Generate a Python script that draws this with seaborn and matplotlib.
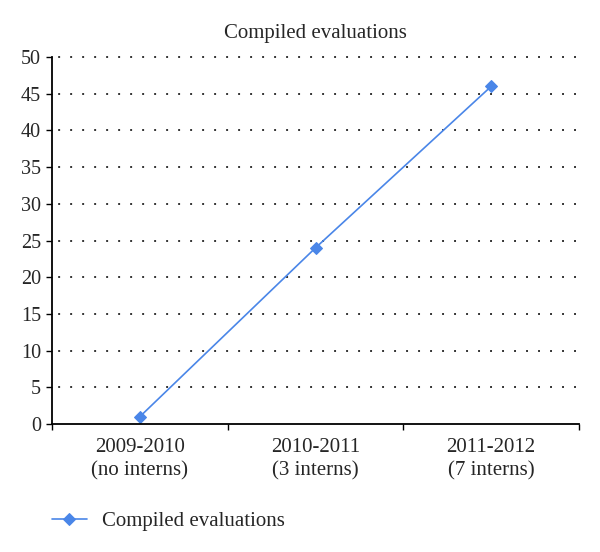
import matplotlib
matplotlib.use("Agg")
import matplotlib.pyplot as plt
import seaborn as sns
import pandas as pd
from matplotlib.ticker import FixedLocator

categories = ["2009-2010\n(no interns)", "2010-2011\n(3 interns)", "2011-2012\n(7 interns)"]
values = [1, 24, 46]
series_name = "Compiled evaluations"
y_ticks = [0, 5, 10, 15, 20, 25, 30, 35, 40, 45, 50]

sns.set_style("white")
plt.rcParams['font.family'] = ['Liberation Serif', 'DejaVu Serif']

df = pd.DataFrame({"period": categories, "value": values})

fig = plt.figure(figsize=(6, 5.52), dpi=100)
ax = fig.add_axes([0.0867, 0.2319, 0.965 - 0.0867, 0.8967 - 0.2319])

color = "#4a86e8"
sns.lineplot(data=df, x="period", y="value", ax=ax, marker="D", markersize=6,
             color=color, linewidth=1.2, markeredgecolor=color, sort=False,
             label=series_name, legend=False)

ax.set_xlim(-0.5, 2.5)
ax.set_ylim(0, 50)
ax.set_yticks(y_ticks)
ax.set_xticks(range(len(categories)))
ax.set_xticklabels(categories, fontsize=15, linespacing=1.3)
ax.xaxis.set_minor_locator(FixedLocator([-0.5, 0.5, 1.5, 2.5]))
ax.tick_params(axis='x', which='major', length=0, pad=10)
ax.tick_params(axis='x', which='minor', length=4, width=1, color='black', direction='out', bottom=True)
ax.tick_params(axis='y', length=4, width=1, color='black', direction='out', left=True, labelsize=14.5, pad=4)
ax.set_xlabel("")
ax.set_ylabel("")

for y in y_ticks[1:]:
    ax.axhline(y, color="#333333", linestyle=(3, (1, 5.17)), linewidth=1.4, zorder=0, clip_on=False)

for s in ["top", "right"]:
    ax.spines[s].set_visible(False)
for s in ["left", "bottom"]:
    ax.spines[s].set_color("black")
    ax.spines[s].set_linewidth(1.3)

ax.set_title(series_name, fontsize=15, pad=14)

handles, labels = ax.get_legend_handles_labels()
fig.legend(handles, labels, loc="center left", bbox_to_anchor=(0.055, 0.055),
           frameon=False, fontsize=15, handlelength=1.7, handletextpad=0.7)

fig.savefig("out.png", dpi=100)
